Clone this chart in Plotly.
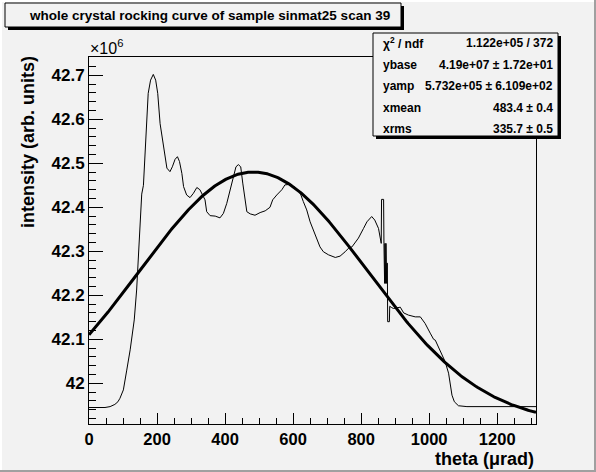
import numpy as np
import plotly.graph_objects as go

# rocking curve (theta in urad, intensity in units of 1e6)
theta = [0, 20, 47, 62, 76, 85, 91, 101, 106, 111, 121, 128, 133, 140, 145, 150,
         155, 160, 165, 170, 174, 181, 189, 196, 202, 209, 216, 224, 229, 238, 245,
         253, 260, 266, 273, 278, 287, 297, 307, 317, 326, 341, 346, 356, 371, 385,
         395, 405, 415, 424, 432, 439, 446, 452, 459, 464, 474, 488, 503, 518, 532,
         540, 552, 567, 576, 591, 606, 621, 630, 640, 650, 660, 670, 679, 689, 704,
         724, 738, 753, 763, 773, 792, 807, 817, 831, 840, 851, 856, 859, 860, 866,
         867, 869, 870, 872, 873, 875, 876, 877, 878, 883, 884, 890, 895, 915, 925,
         939, 959, 974, 988, 1003, 1013, 1018, 1032, 1047, 1057, 1062, 1067, 1074,
         1086, 1111, 1200, 1314]
intensity = [41.945, 41.945, 41.945, 41.947, 41.952, 41.958, 41.966, 41.985, 42.005,
             42.030, 42.076, 42.110, 42.144, 42.212, 42.288, 42.364, 42.430, 42.450,
             42.523, 42.606, 42.659, 42.689, 42.702, 42.689, 42.659, 42.590, 42.553,
             42.515, 42.489, 42.481, 42.492, 42.509, 42.515, 42.504, 42.477, 42.447,
             42.428, 42.422, 42.432, 42.445, 42.440, 42.417, 42.390, 42.381, 42.380,
             42.376, 42.386, 42.409, 42.440, 42.462, 42.492, 42.497, 42.492, 42.455,
             42.417, 42.390, 42.385, 42.382, 42.388, 42.392, 42.400, 42.417, 42.428,
             42.440, 42.451, 42.452, 42.445, 42.432, 42.413, 42.394, 42.367, 42.348,
             42.330, 42.310, 42.299, 42.292, 42.286, 42.289, 42.299, 42.307, 42.310,
             42.330, 42.352, 42.367, 42.379, 42.371, 42.352, 42.326, 42.318, 42.418,
             42.418, 42.318, 42.227, 42.318, 42.227, 42.318, 42.227, 42.273, 42.273,
             42.140, 42.140, 42.175, 42.172, 42.170, 42.173, 42.160, 42.155, 42.151,
             42.151, 42.136, 42.114, 42.100, 42.098, 42.076, 42.049, 42.023, 41.996,
             41.973, 41.958, 41.949, 41.947, 41.947, 41.947]

# gaussian fit parameters from the stats box
ybase = 41.907
yamp = 0.5732
xmean = 483.4
xrms = 335.7

stat_names = ["\u03c7<sup>2</sup> / ndf", "ybase", "yamp", "xmean", "xrms"]
stat_values = ["1.122e+05 / 372", "4.19e+07 \u00b1 1.72e+01",
               "5.732e+05 \u00b1 6.109e+02", "483.4 \u00b1 0.4", "335.7 \u00b1 0.5"]

xfit = np.linspace(0, 1314, 400)
yfit = ybase + yamp * np.exp(-0.5 * ((xfit - xmean) / xrms) ** 2)

bg = "#f2f2f2"
font = "Liberation Sans, Arial, Helvetica, sans-serif"

# pixel -> paper helpers (plot frame is 89..536 x 57..424)
def px(x):
    return (x - 89) / 447.0

def py(y):
    return (424 - y) / 367.0

fig = go.Figure()
fig.add_trace(go.Scatter(x=theta, y=intensity, mode="lines",
                         line=dict(color="black", width=1), hoverinfo="skip"))
fig.add_trace(go.Scatter(x=xfit, y=yfit, mode="lines",
                         line=dict(color="black", width=3), hoverinfo="skip"))

shapes = []
# canvas border
shapes.append(dict(type="line", xref="paper", yref="paper", x0=px(595), x1=px(595),
                   y0=py(0), y1=py(472), line=dict(color="#a0a0a0", width=2)))
shapes.append(dict(type="line", xref="paper", yref="paper", x0=px(0), x1=px(596),
                   y0=py(471), y1=py(471), line=dict(color="#a0a0a0", width=2)))
shapes.append(dict(type="line", xref="paper", yref="paper", x0=px(1), x1=px(1),
                   y0=py(0), y1=py(470), line=dict(color="white", width=2)))
shapes.append(dict(type="line", xref="paper", yref="paper", x0=px(0), x1=px(594),
                   y0=py(1), y1=py(1), line=dict(color="white", width=2)))

def box(x0, y0, x1, y1):
    shapes.append(dict(type="rect", xref="paper", yref="paper",
                       x0=px(x0 + 3), x1=px(x1 + 3), y0=py(y1 + 3), y1=py(y0 + 3),
                       fillcolor="black", line=dict(width=0)))
    shapes.append(dict(type="rect", xref="paper", yref="paper",
                       x0=px(x0), x1=px(x1), y0=py(y1), y1=py(y0),
                       fillcolor=bg, line=dict(color="black", width=1)))

box(5, 3, 401, 27)
box(373, 33, 558, 136)

annotations = [
    dict(text="whole crystal rocking curve of sample sinmat25 scan 39",
         x=px(209), y=py(15), xref="paper", yref="paper", showarrow=False,
         xanchor="center", yanchor="middle",
         font=dict(family=font, size=13.5, color="black", weight="bold")),
    dict(text="intensity (arb. units)", textangle=-90,
         x=px(28), y=py(54), xref="paper", yref="paper", showarrow=False,
         xanchor="center", yanchor="top",
         font=dict(family=font, size=18, color="black", weight="bold")),
    dict(text="theta (\u03bcrad)",
         x=px(536), y=py(459), xref="paper", yref="paper", showarrow=False,
         xanchor="right", yanchor="middle",
         font=dict(family=font, size=18, color="black", weight="bold")),
    dict(text="\u00d710<sup>6</sup>",
         x=px(88), y=py(47), xref="paper", yref="paper", showarrow=False,
         xanchor="left", yanchor="middle",
         font=dict(family=font, size=16, color="black")),
]
for i, (name, val) in enumerate(zip(stat_names, stat_values)):
    yy = 43.5 + i * 21.4
    annotations.append(dict(text=name, x=px(381), y=py(yy), xref="paper", yref="paper",
                            showarrow=False, xanchor="left", yanchor="middle",
                            font=dict(family=font, size=12, color="black", weight="bold")))
    annotations.append(dict(text=val, x=px(555), y=py(yy), xref="paper", yref="paper",
                            showarrow=False, xanchor="right", yanchor="middle",
                            font=dict(family=font, size=12, color="black", weight="bold")))

fig.update_layout(
    width=596, height=472,
    margin=dict(l=89, r=60, t=57, b=48),
    paper_bgcolor=bg, plot_bgcolor=bg,
    showlegend=False,
    shapes=shapes, annotations=annotations,
    xaxis=dict(range=[0, 1314], tick0=0, dtick=200, ticks="inside", ticklen=11,
               tickcolor="black", showgrid=False, zeroline=False,
               showline=True, linecolor="black", linewidth=1, mirror=True,
               tickfont=dict(family=font, size=16.5, color="black", weight="bold"),
               minor=dict(ticks="inside", ticklen=6, dtick=50, tickcolor="black",
                          showgrid=False)),
    yaxis=dict(range=[41.9075, 42.7416], tick0=42, dtick=0.1, ticks="inside",
               ticklen=14, tickcolor="black", showgrid=False, zeroline=False,
               showline=True, linecolor="black", linewidth=1, mirror=True,
               tickfont=dict(family=font, size=17, color="black", weight="bold"),
               minor=dict(ticks="inside", ticklen=7, dtick=0.02, tickcolor="black",
                          showgrid=False)),
)

fig.write_html("out.html", config={"displayModeBar": False},
               post_script="document.body.style.margin='0px';")
